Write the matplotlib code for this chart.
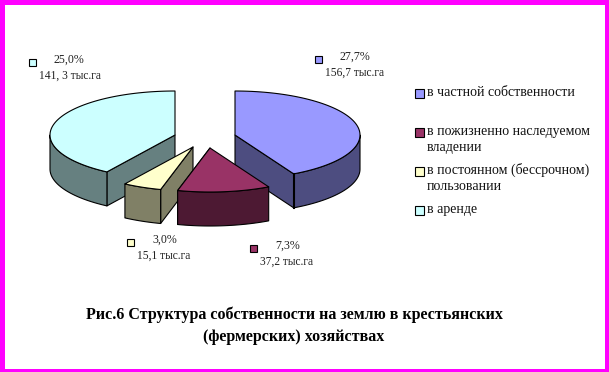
import numpy as np
import matplotlib
matplotlib.use('Agg')
import matplotlib.pyplot as plt
from matplotlib.patches import Polygon, Rectangle

plt.rcParams['font.family'] = ['Liberation Serif', 'DejaVu Serif']

# data
categories = ['в частной собственности', 'в пожизненно наследуемом\nвладении',
              'в постоянном (бессрочном)\nпользовании', 'в аренде']
percent_labels = ['27,7%', '7,3%', '3,0%', '25,0%']
area_labels = ['156,7 тыс.га', '37,2 тыс.га', '15,1 тыс.га', '141, 3 тыс.га']
# width of each slice in degrees, measured on the drawn pie
slice_degrees = [152, 43, 18, 147]

top_colors = ['#9999FF', '#993366', '#FFFFCC', '#CCFFFF']
side_colors = ['#4D4D80', '#4D1933', '#808066', '#668080']

# layout in pixels
rx, ry, depth = 125, 44, 34
apex = [(235, 135), (210, 148), (193, 147), (175, 135)]
draw_order = [3, 0, 2, 1]
legend_y = [93, 132, 171, 210]
legend_lines = [92, 131, 148, 170, 187, 209]
label_pos = [(315, 57), (250, 246), (127, 240), (29, 60)]

fig = plt.figure(figsize=(6.09, 3.72), dpi=100)
ax = fig.add_axes([0, 0, 1, 1])
ax.set_xlim(0, 609)
ax.set_ylim(372, 0)
ax.axis('off')


def rim(cx, cy, a0, a1):
    t = np.radians(np.linspace(a0, a1, 80))
    return np.column_stack([cx + rx * np.sin(t), cy - ry * np.cos(t)])


def poly(pts, color):
    ax.add_patch(Polygon(pts, closed=True, facecolor=color, edgecolor='black', linewidth=0.8, joinstyle='round'))


edges = np.concatenate([[0], np.cumsum(slice_degrees)])

for i in draw_order:
    cx, cy = apex[i]
    a0, a1 = edges[i], edges[i + 1]
    # cut face that looks toward the viewer
    cut = a0 if a0 >= 180 else a1
    end = rim(cx, cy, cut, cut)[0]
    poly([(cx, cy), end, end + (0, depth), (cx, cy + depth)], side_colors[i])
    # outer wall, only the front half of the rim
    w0, w1 = max(a0, 90), min(a1, 270)
    arc = rim(cx, cy, w0, w1)
    poly(np.vstack([arc, (arc + (0, depth))[::-1]]), side_colors[i])
    # top surface
    poly(np.vstack([[(cx, cy)], rim(cx, cy, a0, a1)]), top_colors[i])
    if i == 0:
        ax.plot([end[0], end[0]], [end[1], end[1] + depth], color='black', linewidth=1.5)

# data labels with little colour keys
for i in range(4):
    x, y = label_pos[i]
    ax.add_patch(Rectangle((x, y - 1.5), 7, 7, facecolor=top_colors[i], edgecolor='black', linewidth=0.8))
    ax.text(x + 25, y, percent_labels[i], fontsize=8.6, ha='left', va='center', color='#222222')
    ax.text(x + 10, y + 15.5, area_labels[i], fontsize=8.3, ha='left', va='center', color='#222222')

# legend
for i in range(4):
    ax.add_patch(Rectangle((414.5, legend_y[i] - 4.5), 9, 9, facecolor=top_colors[i], edgecolor='black', linewidth=0.8))
legend_text = [line for c in categories for line in c.split('\n')]
for line, y in zip(legend_text, legend_lines):
    ax.text(427, y, line, fontsize=10, ha='left', va='center', color='#111111')

# caption
ax.text(294, 315, 'Рис.6 Структура собственности на землю в крестьянских', fontsize=11.5, fontweight='bold',
        ha='center', va='center', color='black')
ax.text(294, 337, '(фермерских) хозяйствах', fontsize=11.5, fontweight='bold', ha='center', va='center', color='black')

# magenta frame, the sides are not equally thick
frame = '#FF00FF'
ax.add_patch(Rectangle((0, 0), 609, 5, facecolor=frame, edgecolor='none'))
ax.add_patch(Rectangle((0, 369), 609, 3, facecolor=frame, edgecolor='none'))
ax.add_patch(Rectangle((0, 0), 5, 372, facecolor=frame, edgecolor='none'))
ax.add_patch(Rectangle((605, 0), 4, 372, facecolor=frame, edgecolor='none'))

fig.savefig('out.png', dpi=100)
